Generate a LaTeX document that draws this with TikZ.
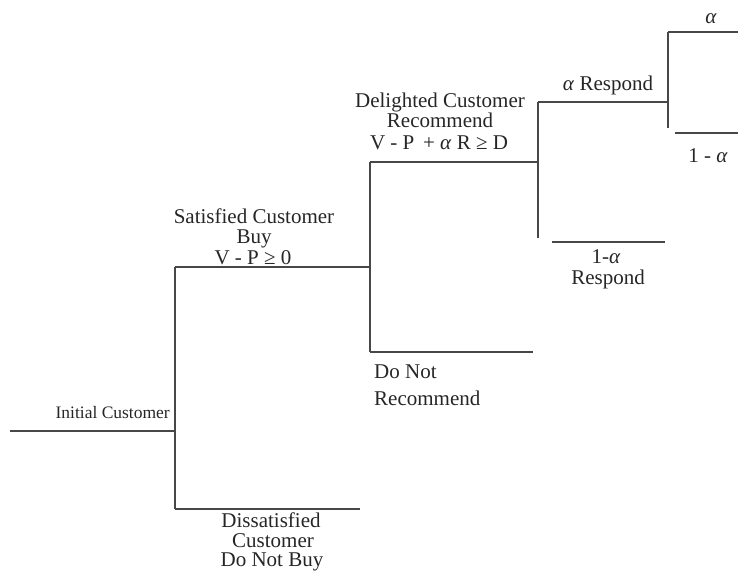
\documentclass[tikz,border=0pt]{standalone}
\usepackage{fontspec}
\setmainfont{Liberation Serif}
\newcommand{\al}{\textit{α}}
\begin{document}
\begin{tikzpicture}[x=1bp,y=-1bp,
  branch/.style={draw=black!72,line width=1.4bp},
  lbl/.style={anchor=base,inner sep=0pt,text=black!85,font=\fontsize{21bp}{21bp}\selectfont},
  lblsmall/.style={anchor=base east,inner sep=0pt,text=black!85,font=\fontsize{17.5bp}{18bp}\selectfont},
  lblleft/.style={anchor=base west,inner sep=0pt,text=black!85,font=\fontsize{21bp}{21bp}\selectfont}]
\useasboundingbox (0,0) rectangle (738,571);

% decision points and branch ends
\coordinate (start) at (10,431);
\coordinate (j1) at (175,431);
\coordinate (j1t) at (175,267);
\coordinate (j1b) at (175,509);
\coordinate (dis) at (360,509);
\coordinate (j2) at (370,267);
\coordinate (j2t) at (370,162);
\coordinate (j2b) at (370,352);
\coordinate (nrec) at (533,352);
\coordinate (j3) at (538,162);
\coordinate (j3t) at (538,102);
\coordinate (j3b) at (538,238);
\coordinate (nresA) at (552,242);
\coordinate (nresB) at (665,242);
\coordinate (j4) at (668,102);
\coordinate (j4t) at (668,32);
\coordinate (j4b) at (668,128);
\coordinate (upend) at (738,32);
\coordinate (loA) at (675,133);
\coordinate (loB) at (738,133);

% tree branches
\draw[branch] (start) -- (j1);
\draw[branch] (j1t) -- (j1b);
\draw[branch] (j1t) -- (j2);
\draw[branch] (j1b) -- (dis);
\draw[branch] (j2t) -- (j2b);
\draw[branch] (j2t) -- (j3);
\draw[branch] (j2b) -- (nrec);
\draw[branch] (j3t) -- (j3b);
\draw[branch] (j3t) -- (j4);
\draw[branch] (nresA) -- (nresB);
\draw[branch] (j4t) -- (j4b);
\draw[branch] (j4t) -- (upend);
\draw[branch] (loA) -- (loB);

% labels
\node[lblsmall] (init) at (170,418) {Initial Customer};

\node[lbl] (sat1) at (254,223) {Satisfied Customer};
\node[lbl] (sat2) at (254,243) {Buy};
\node[lbl] (sat3) at (253,264) {V - P ≥ 0};

\node[lbl] (del1) at (440,108) {Delighted Customer};
\node[lbl] (del2) at (440,128) {Recommend};
\node[lbl] (del3) at (439,150) {V - P \,+ \al\ R ≥ D};

\node[lbl] (resp) at (608,91) {\al\ Respond};
\node[lbl] (aup) at (711,24) {\al};
\node[lbl] (adown) at (708,163) {1 - \al};

\node[lbl] (nr1) at (606,263) {1-\al};
\node[lbl] (nr2) at (608,284) {Respond};

\node[lblleft] (dn1) at (374,378) {Do Not};
\node[lblleft] (dn2) at (374,405) {Recommend};

\node[lbl] (dis1) at (271,527) {Dissatisfied};
\node[lbl] (dis2) at (273,547) {Customer};
\node[lbl] (dis3) at (272,566) {Do Not Buy};
\end{tikzpicture}
\end{document}
